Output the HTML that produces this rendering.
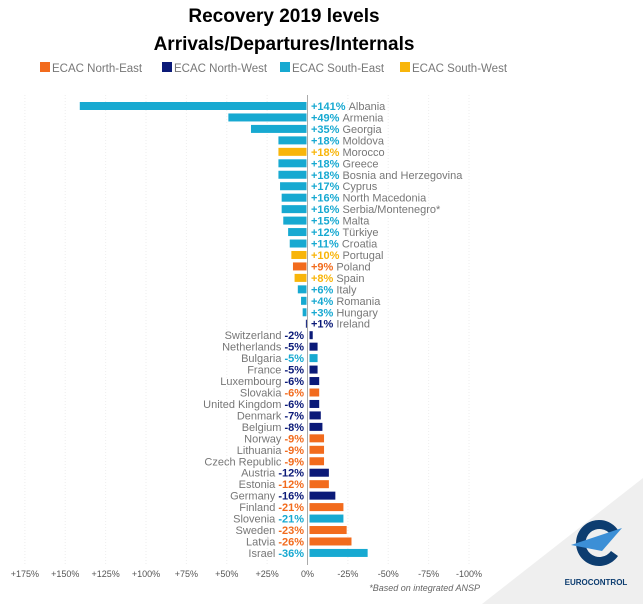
<!DOCTYPE html>
<html><head><meta charset="utf-8"><style>
body{margin:0;width:643px;height:604px;background:#fff;overflow:hidden;font-family:"Liberation Sans",sans-serif}
</style></head><body>
<svg id="c" width="643" height="604" xmlns="http://www.w3.org/2000/svg">
<polygon points="643,478 643,604 482,604" fill="#efefef"/>
<text x="284" y="22" text-anchor="middle" font-size="19" font-weight="bold" fill="#000">Recovery 2019 levels</text>
<text x="284" y="50" text-anchor="middle" font-size="19" font-weight="bold" fill="#000">Arrivals/Departures/Internals</text>
<g id="legend"></g>
<g id="grid"></g><g id="bars"></g><g id="labels"></g><g id="ticks"></g>
<text x="480" y="591" text-anchor="end" font-size="9" font-style="italic" fill="#666">*Based on integrated ANSP</text>
<g>
<path d="M618,530 A23,23 0 1 0 618,556 L611,551 A14,14 0 1 1 611,535 Z" fill="#0d3d70"/>
<polygon points="571,545 622,528 602,551" fill="#3c8fd6"/>
<text x="596" y="585" text-anchor="middle" font-size="8" font-weight="bold" fill="#0d3d70">EUROCONTROL</text>
</g>
</svg>
<script>
const countries=["Albania","Armenia","Georgia","Moldova","Morocco","Greece","Bosnia and Herzegovina","Cyprus","North Macedonia","Serbia/Montenegro*","Malta","Türkiye","Croatia","Portugal","Poland","Spain","Italy","Romania","Hungary","Ireland","Switzerland","Netherlands","Bulgaria","France","Luxembourg","Slovakia","United Kingdom","Denmark","Belgium","Norway","Lithuania","Czech Republic","Austria","Estonia","Germany","Finland","Slovenia","Sweden","Latvia","Israel"];
const values=[141,49,35,18,18,18,18,17,16,16,15,12,11,10,9,8,6,4,3,1,-2,-5,-5,-5,-6,-6,-6,-7,-8,-9,-9,-9,-12,-12,-16,-21,-21,-23,-26,-36];
const regions=["SE","SE","SE","SE","SW","SE","SE","SE","SE","SE","SE","SE","SE","SW","NE","SW","SE","SE","SE","NW","NW","NW","SE","NW","NW","NE","NW","NW","NW","NE","NE","NE","NW","NE","NW","NE","SE","NE","NE","SE"];
const tickVals=[175,150,125,100,75,50,25,0,-25,-50,-75,-100];
const legendKeys=["NE","NW","SE","SW"];
const legendNames=["ECAC North-East","ECAC North-West","ECAC South-East","ECAC South-West"];
const colors={NE:"#f26b1d",NW:"#0b1a78",SE:"#17a9d1",SW:"#f8b50a"};
const NS="http://www.w3.org/2000/svg";
const x=v=>307.5-v*1.615;
const y=i=>106+i*11.46;
function mk(t,a,p){const e=document.createElementNS(NS,t);for(const k in a)e.setAttribute(k,a[k]);document.getElementById(p).appendChild(e);return e;}
tickVals.forEach(t=>{
 const g=mk("line",{x1:x(t),x2:x(t),y1:95,y2:565,stroke:t===0?"#aaa":"#eeeeee","stroke-dasharray":t===0?"":"1,2","stroke-width":1},"grid");
 
 
 const tx=mk("text",{x:x(t),y:577,"text-anchor":"middle","font-size":9,fill:"#555"},"ticks");
 tx.textContent=t>0?"+"+t+"%":(t===0?"0%":"-"+(-t)+"%");
 
 
});
let lx=38;
legendKeys.forEach((k,i)=>{
 const r=mk("rect",{x:lx+2,y:62,width:10,height:10,fill:colors[k]},"legend");
 
 
 const t=mk("text",{x:lx+14,y:72,"font-size":11.5,fill:"#777"},"legend");
 t.textContent=legendNames[i];
 
 
 lx+=[122,118,120,0][i];
});
countries.forEach((c,i)=>{
 const v=values[i],col=colors[regions[i]],yc=y(i);
 const x0=v>=0?x(v):x(0)+2, w=Math.abs(x(v)-x(0));
 const b=mk("rect",{x:x0,y:yc-4,width:Math.max(w-(v>=0?1:0),1),height:8,fill:col},"bars");
 
 
 const vs=(v>0?"+":"")+v+"%";
 if(v>=0){
  const t=mk("text",{x:311,y:yc+4,"font-size":11,"font-weight":"bold",fill:col},"labels");
  t.textContent=vs;
  
  
  const w2=t.getComputedTextLength();
  const n=mk("text",{x:311+w2+3,y:yc+4,"font-size":11,fill:"#777"},"labels");
  n.textContent=c;
  
  
 }else{
  const t=mk("text",{x:304,y:yc+4,"font-size":11,"font-weight":"bold",fill:col,"text-anchor":"end"},"labels");
  t.textContent=vs;
  
  
  const w2=t.getComputedTextLength();
  const n=mk("text",{x:304-w2-3,y:yc+4,"font-size":11,fill:"#777","text-anchor":"end"},"labels");
  n.textContent=c;
  
  
 }
});
</script>
</body></html>
